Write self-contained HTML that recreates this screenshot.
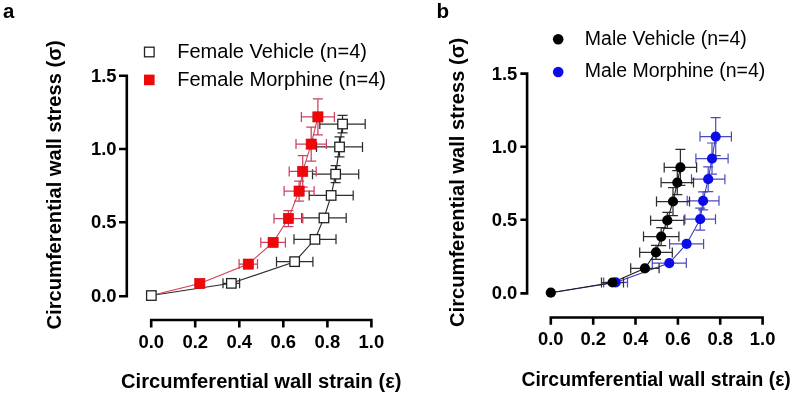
<!DOCTYPE html>
<html><head><meta charset="utf-8"><style>
html,body{margin:0;padding:0;background:#fff;}
svg{display:block;will-change:transform;}
</style></head><body>
<svg width="795" height="396" viewBox="0 0 795 396" font-family='"Liberation Sans", sans-serif' fill="#000">
<text x="3" y="18.2" font-size="20.4" font-weight="bold">a</text><text x="436.6" y="18.2" font-size="20.6" font-weight="bold">b</text><g stroke="#000" stroke-width="2.6" fill="none" stroke-linecap="butt"><path d="M119 75.7H126.8V296.3H119M126.8 149H119M126.8 222.3H119"/><path d="M151.2 327.5V320H371.4V327.5M195.2 320V327.5M239.3 320V327.5M283.3 320V327.5M327.4 320V327.5"/></g><text transform="translate(116.5,81.8) scale(0.96,1)" font-size="19.2" font-weight="bold" text-anchor="end">1.5</text><text transform="translate(116.5,155.1) scale(0.96,1)" font-size="19.2" font-weight="bold" text-anchor="end">1.0</text><text transform="translate(116.5,228.4) scale(0.96,1)" font-size="19.2" font-weight="bold" text-anchor="end">0.5</text><text transform="translate(116.5,301.8) scale(0.96,1)" font-size="19.2" font-weight="bold" text-anchor="end">0.0</text><text transform="translate(151.2,347.7) scale(0.96,1)" font-size="19.2" font-weight="bold" text-anchor="middle">0.0</text><text transform="translate(195.2,347.7) scale(0.96,1)" font-size="19.2" font-weight="bold" text-anchor="middle">0.2</text><text transform="translate(239.3,347.7) scale(0.96,1)" font-size="19.2" font-weight="bold" text-anchor="middle">0.4</text><text transform="translate(283.3,347.7) scale(0.96,1)" font-size="19.2" font-weight="bold" text-anchor="middle">0.6</text><text transform="translate(327.4,347.7) scale(0.96,1)" font-size="19.2" font-weight="bold" text-anchor="middle">0.8</text><text transform="translate(371.4,347.7) scale(0.96,1)" font-size="19.2" font-weight="bold" text-anchor="middle">1.0</text><text x="121" y="387.8" font-size="20.15" font-weight="bold">Circumferential wall strain (ε)</text><text transform="translate(61,329.5) rotate(-90)" x="0" y="0" font-size="20.15" font-weight="bold">Circumferential wall stress (σ)</text><rect x="144.5" y="47.2" width="9.6" height="9.6" fill="#fff" stroke="#222" stroke-width="1.3"/><rect x="144" y="74.6" width="10.6" height="10.6" fill="#f00808"/><text x="177.2" y="57.7" font-size="20.05">Female Vehicle (n=4)</text><text x="177.2" y="85.6" font-size="20.05">Female Morphine (n=4)</text><g stroke="#2e2e2e" stroke-width="1.25" fill="none"><path d="M223.0 283.3H239.6M223.0 278.3V288.3M239.6 278.3V288.3"/><path d="M276.5 261.7H312.9M276.5 256.7V266.7M312.9 256.7V266.7"/><path d="M294.0 239.3H336.0M294.0 234.3V244.3M336.0 234.3V244.3"/><path d="M301.8 217.9H346.2M301.8 212.9V222.9M346.2 212.9V222.9"/><path d="M309.2 195.4H353.2M309.2 190.4V200.4M353.2 190.4V200.4"/><path d="M312.5 174.2H358.7M312.5 169.2V179.2M358.7 169.2V179.2"/><path d="M335.6 165.7V182.7M330.6 165.7H340.6M330.6 182.7H340.6"/><path d="M316.5 146.9H362.5M316.5 141.9V151.9M362.5 141.9V151.9"/><path d="M339.5 136.9V156.9M334.5 136.9H344.5M334.5 156.9H344.5"/><path d="M319.8 124.1H365.2M319.8 119.1V129.1M365.2 119.1V129.1"/><path d="M342.5 115.3V132.9M337.5 115.3H347.5M337.5 132.9H347.5"/></g><path d="M151.3 295.5L231.3 283.3L294.7 261.7L315.0 239.3L324.0 217.9L331.2 195.4L335.6 174.2L339.5 146.9L342.5 124.1" stroke="#2a2a2a" stroke-width="1.15" fill="none"/><g stroke="#cc4262" stroke-width="1.25" fill="none"><path d="M239.1 264.1H257.5M239.1 259.1V269.1M257.5 259.1V269.1"/><path d="M260.8 242.4H285.4M260.8 237.4V247.4M285.4 237.4V247.4"/><path d="M274.0 218.5H302.8M274.0 213.5V223.5M302.8 213.5V223.5"/><path d="M288.4 210.5V226.5M283.4 210.5H293.4M283.4 226.5H293.4"/><path d="M284.1 191.1H314.1M284.1 186.1V196.1M314.1 186.1V196.1"/><path d="M299.1 181.1V201.1M294.1 181.1H304.1M294.1 201.1H304.1"/><path d="M289.2 171.4H316.2M289.2 166.4V176.4M316.2 166.4V176.4"/><path d="M302.7 155.7V187.1M297.7 155.7H307.7M297.7 187.1H307.7"/><path d="M296.0 144.1H326.4M296.0 139.1V149.1M326.4 139.1V149.1"/><path d="M311.2 127.1V161.1M306.2 127.1H316.2M306.2 161.1H316.2"/><path d="M301.4 116.9H334.4M301.4 111.9V121.9M334.4 111.9V121.9"/><path d="M317.9 98.9V134.9M312.9 98.9H322.9M312.9 134.9H322.9"/></g><path d="M151.3 295.5L199.8 283.5L248.3 264.1L273.1 242.4L288.4 218.5L299.1 191.1L302.7 171.4L311.2 144.1L317.9 116.9" stroke="#d23c50" stroke-width="1.05" fill="none"/><rect x="226.6" y="278.6" width="9.5" height="9.5" fill="#fff" stroke="#222" stroke-width="1.3"/><rect x="289.9" y="256.9" width="9.5" height="9.5" fill="#fff" stroke="#222" stroke-width="1.3"/><rect x="310.2" y="234.6" width="9.5" height="9.5" fill="#fff" stroke="#222" stroke-width="1.3"/><rect x="319.2" y="213.2" width="9.5" height="9.5" fill="#fff" stroke="#222" stroke-width="1.3"/><rect x="326.4" y="190.7" width="9.5" height="9.5" fill="#fff" stroke="#222" stroke-width="1.3"/><rect x="330.9" y="169.4" width="9.5" height="9.5" fill="#fff" stroke="#222" stroke-width="1.3"/><rect x="334.8" y="142.2" width="9.5" height="9.5" fill="#fff" stroke="#222" stroke-width="1.3"/><rect x="337.8" y="119.3" width="9.5" height="9.5" fill="#fff" stroke="#222" stroke-width="1.3"/><rect x="194.7" y="278.4" width="10.2" height="10.2" fill="#f00808" stroke="#d00010" stroke-width="0.6"/><rect x="243.2" y="259.0" width="10.2" height="10.2" fill="#f00808" stroke="#d00010" stroke-width="0.6"/><rect x="268.0" y="237.3" width="10.2" height="10.2" fill="#f00808" stroke="#d00010" stroke-width="0.6"/><rect x="283.3" y="213.4" width="10.2" height="10.2" fill="#f00808" stroke="#d00010" stroke-width="0.6"/><rect x="294.0" y="186.0" width="10.2" height="10.2" fill="#f00808" stroke="#d00010" stroke-width="0.6"/><rect x="297.6" y="166.3" width="10.2" height="10.2" fill="#f00808" stroke="#d00010" stroke-width="0.6"/><rect x="306.1" y="139.0" width="10.2" height="10.2" fill="#f00808" stroke="#d00010" stroke-width="0.6"/><rect x="312.8" y="111.8" width="10.2" height="10.2" fill="#f00808" stroke="#d00010" stroke-width="0.6"/><rect x="146.6" y="290.8" width="9.5" height="9.5" fill="#fff" stroke="#222" stroke-width="1.3"/><g stroke="#000" stroke-width="2.6" fill="none" stroke-linecap="butt"><path d="M520.4 73.6H527.1V293.4H520.4M527.1 146.7H520.4M527.1 219.8H520.4"/><path d="M550.8 324.7V317.5H762.6V324.7M593.2 317.5V324.7M635.5 317.5V324.7M677.9 317.5V324.7M720.2 317.5V324.7"/></g><text transform="translate(517.3,79.7) scale(0.96,1)" font-size="19.2" font-weight="bold" text-anchor="end">1.5</text><text transform="translate(517.3,152.8) scale(0.96,1)" font-size="19.2" font-weight="bold" text-anchor="end">1.0</text><text transform="translate(517.3,225.9) scale(0.96,1)" font-size="19.2" font-weight="bold" text-anchor="end">0.5</text><text transform="translate(517.3,299.0) scale(0.96,1)" font-size="19.2" font-weight="bold" text-anchor="end">0.0</text><text transform="translate(550.8,345.3) scale(0.96,1)" font-size="19.2" font-weight="bold" text-anchor="middle">0.0</text><text transform="translate(593.2,345.3) scale(0.96,1)" font-size="19.2" font-weight="bold" text-anchor="middle">0.2</text><text transform="translate(635.5,345.3) scale(0.96,1)" font-size="19.2" font-weight="bold" text-anchor="middle">0.4</text><text transform="translate(677.9,345.3) scale(0.96,1)" font-size="19.2" font-weight="bold" text-anchor="middle">0.6</text><text transform="translate(720.2,345.3) scale(0.96,1)" font-size="19.2" font-weight="bold" text-anchor="middle">0.8</text><text transform="translate(762.6,345.3) scale(0.96,1)" font-size="19.2" font-weight="bold" text-anchor="middle">1.0</text><text x="521.5" y="386.4" font-size="19.35" font-weight="bold">Circumferential wall strain (ε)</text><text transform="translate(463.7,327) rotate(-90)" x="0" y="0" font-size="20.15" font-weight="bold">Circumferential wall stress (σ)</text><circle cx="558.2" cy="39.2" r="5.3" fill="#000"/><circle cx="558.2" cy="72" r="5.3" fill="#0c0ce8"/><text x="584.8" y="44.7" font-size="19.5">Male Vehicle (n=4)</text><text x="584.8" y="77.4" font-size="19.5">Male Morphine (n=4)</text><g stroke="#4a4ac0" stroke-width="1.2" fill="none"><path d="M603.7 282.4H627.5M603.7 277.4V287.4M627.5 277.4V287.4"/><path d="M652.3 263.1H686.3M652.3 258.1V268.1M686.3 258.1V268.1"/><path d="M669.6 243.9H703.6M669.6 238.9V248.9M703.6 238.9V248.9"/><path d="M684.9 219.2H715.5M684.9 214.2V224.2M715.5 214.2V224.2"/><path d="M700.2 208.2V230.2M695.2 208.2H705.2M695.2 230.2H705.2"/><path d="M687.2 200.8H719.0M687.2 195.8V205.8M719.0 195.8V205.8"/><path d="M703.1 191.8V209.8M698.1 191.8H708.1M698.1 209.8H708.1"/><path d="M691.5 179.2H724.9M691.5 174.2V184.2M724.9 174.2V184.2"/><path d="M708.2 166.8V191.6M703.2 166.8H713.2M703.2 191.6H713.2"/><path d="M695.9 158.6H728.1M695.9 153.6V163.6M728.1 153.6V163.6"/><path d="M712.0 143.0V174.2M707.0 143.0H717.0M707.0 174.2H717.0"/><path d="M700.0 136.6H731.4M700.0 131.6V141.6M731.4 131.6V141.6"/><path d="M715.7 117.6V155.6M710.7 117.6H720.7M710.7 155.6H720.7"/></g><path d="M550.8 292.7L615.6 282.4L669.3 263.1L686.6 243.9L700.2 219.2L703.1 200.8L708.2 179.2L712.0 158.6L715.7 136.6" stroke="#3636b8" stroke-width="1.05" fill="none"/><g stroke="#2e2e2e" stroke-width="1.25" fill="none"><path d="M601.5 282.5H623.5M601.5 277.5V287.5M623.5 277.5V287.5"/><path d="M630.7 268.3H659.1M630.7 263.3V273.3M659.1 263.3V273.3"/><path d="M639.7 252.4H672.3M639.7 247.4V257.4M672.3 247.4V257.4"/><path d="M656.0 245.4V259.4M651.0 245.4H661.0M651.0 259.4H661.0"/><path d="M643.5 236.6H678.9M643.5 231.6V241.6M678.9 231.6V241.6"/><path d="M661.2 227.6V245.6M656.2 227.6H666.2M656.2 245.6H666.2"/><path d="M650.6 220.4H684.0M650.6 215.4V225.4M684.0 215.4V225.4"/><path d="M667.3 212.4V228.4M662.3 212.4H672.3M662.3 228.4H672.3"/><path d="M656.5 201.5H689.5M656.5 196.5V206.5M689.5 196.5V206.5"/><path d="M673.0 187.5V215.5M668.0 187.5H678.0M668.0 215.5H678.0"/><path d="M661.1 182.6H693.5M661.1 177.6V187.6M693.5 177.6V187.6"/><path d="M677.3 170.6V194.6M672.3 170.6H682.3M672.3 194.6H682.3"/><path d="M664.2 167.4H696.6M664.2 162.4V172.4M696.6 162.4V172.4"/><path d="M680.4 149.4V185.4M675.4 149.4H685.4M675.4 185.4H685.4"/></g><path d="M550.8 292.7L612.5 282.5L644.9 268.3L656.0 252.4L661.2 236.6L667.3 220.4L673.0 201.5L677.3 182.6L680.4 167.4" stroke="#1e1e1e" stroke-width="1.1" fill="none"/><circle cx="615.6" cy="282.4" r="5.1" fill="#0c0ce8"/><circle cx="669.3" cy="263.1" r="5.1" fill="#0c0ce8"/><circle cx="686.6" cy="243.9" r="5.1" fill="#0c0ce8"/><circle cx="700.2" cy="219.2" r="5.1" fill="#0c0ce8"/><circle cx="703.1" cy="200.8" r="5.1" fill="#0c0ce8"/><circle cx="708.2" cy="179.2" r="5.1" fill="#0c0ce8"/><circle cx="712.0" cy="158.6" r="5.1" fill="#0c0ce8"/><circle cx="715.7" cy="136.6" r="5.1" fill="#0c0ce8"/><circle cx="612.5" cy="282.5" r="5.1" fill="#000"/><circle cx="644.9" cy="268.3" r="5.1" fill="#000"/><circle cx="656.0" cy="252.4" r="5.1" fill="#000"/><circle cx="661.2" cy="236.6" r="5.1" fill="#000"/><circle cx="667.3" cy="220.4" r="5.1" fill="#000"/><circle cx="673.0" cy="201.5" r="5.1" fill="#000"/><circle cx="677.3" cy="182.6" r="5.1" fill="#000"/><circle cx="680.4" cy="167.4" r="5.1" fill="#000"/><circle cx="550.8" cy="292.7" r="5.1" fill="#000"/>
</svg></body></html>
